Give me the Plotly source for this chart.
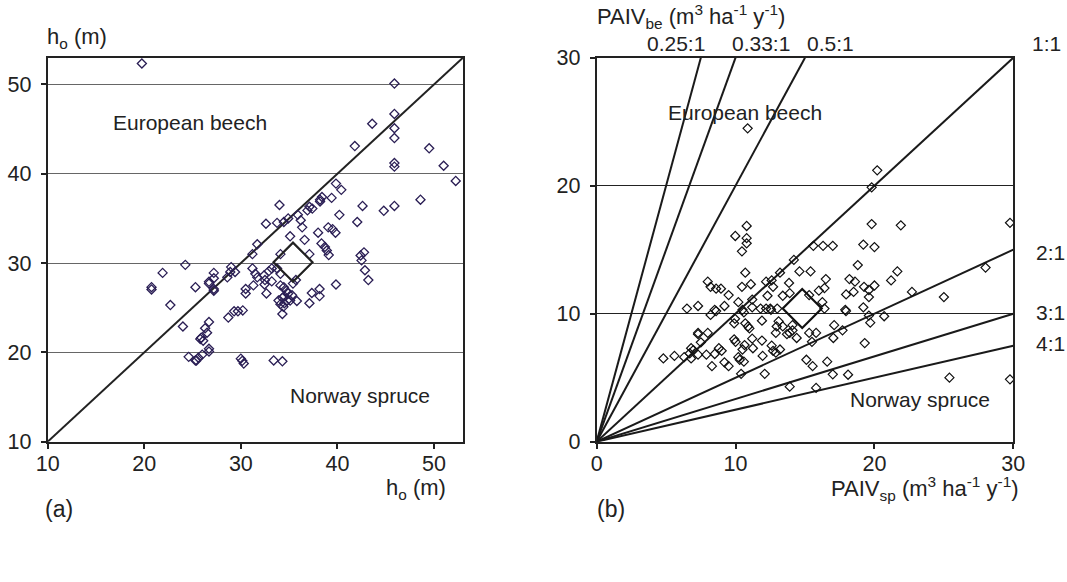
import plotly.graph_objects as go

# ---------- Panel (a): dominant height, spruce (x) vs beech (y) ----------
ho_sp = [19.75, 45.9, 45.9, 43.6, 45.9, 45.9, 41.8, 49.5, 51.0, 45.9, 45.9, 52.25,
         39.85, 40.4, 39.4, 48.6, 45.9, 42.6, 44.8, 34.0, 38.2, 38.4, 38.2, 37.1,
         37.4, 36.9, 40.2, 42.05, 35.9, 36.2, 36.35, 34.9, 34.45, 33.75, 32.6, 38.0,
         39.05, 39.5, 39.8, 35.1, 36.6, 31.7, 38.35, 38.7, 38.9, 39.1, 31.2, 34.1,
         37.1, 42.75, 42.4, 42.5, 42.85, 43.2, 24.25, 21.9, 29.0, 28.9, 29.4, 31.2,
         31.5, 31.7, 27.2, 27.2, 26.7, 26.7, 28.6, 32.9, 33.2, 33.75, 32.4, 32.5,
         32.45, 33.2, 34.1, 31.3, 35.7, 35.4, 20.75, 20.75, 25.3, 27.2, 27.2, 30.5,
         30.5, 32.65, 34.1, 34.45, 34.7, 34.9, 35.3, 37.35, 38.15, 38.15, 39.85, 33.9,
         34.3, 34.5, 34.8, 35.1, 34.1, 34.4, 34.5, 35.8, 37.1, 34.3, 22.7, 28.7,
         29.3, 29.7, 30.2, 24.0, 26.7, 26.3, 26.5, 25.9, 26.1, 25.8, 26.7, 26.7,
         24.6, 25.4, 25.6, 26.0, 25.3, 30.0, 30.15, 30.3, 33.4, 34.3]
ho_be = [52.35, 50.1, 46.7, 45.6, 45.1, 44.0, 43.1, 42.85, 40.9, 41.2, 40.8, 39.2,
         38.9, 38.2, 37.3, 37.1, 36.4, 36.4, 35.85, 36.5, 37.1, 37.4, 36.9, 36.3,
         36.1, 35.9, 35.4, 34.6, 35.4, 34.8, 34.0, 35.0, 34.6, 34.5, 34.4, 33.4,
         34.0, 33.8, 33.4, 33.0, 32.6, 32.1, 32.2, 31.8, 31.4, 30.9, 31.0, 31.0,
         31.0, 31.2, 30.85, 30.3, 29.2, 28.1, 29.8, 28.9, 29.55, 29.0, 29.0, 29.4,
         28.8, 28.4, 28.9, 28.3, 27.9, 27.7, 28.4, 29.1, 29.4, 29.4, 28.6, 28.1,
         27.6, 27.95, 28.8, 27.5, 28.1, 27.7, 27.3, 27.05, 27.3, 27.1, 26.9, 27.1,
         26.6, 26.6, 27.5, 27.3, 26.9, 26.6, 26.4, 26.65, 27.1, 26.3, 27.6, 25.8,
         26.1, 26.3, 25.8, 25.8, 25.4, 25.1, 25.5, 25.75, 25.5, 24.3, 25.3, 23.9,
         24.6, 24.6, 24.7, 22.9, 23.4, 22.7, 22.2, 21.65, 21.3, 21.5, 20.4, 20.1,
         19.5, 19.1, 19.4, 19.75, 19.1, 19.3, 19.05, 18.75, 19.1, 19.0]
ho_mean_sp = [35.4]
ho_mean_be = [30.1]
ho_line = [10, 53]

# ---------- Panel (b): periodic annual increment in volume ----------
paiv_sp = [10.87, 20.2, 19.8, 29.76, 19.8, 21.9, 10.8, 9.98, 10.8, 10.8, 10.46, 15.6,
           16.3, 17.0, 19.2, 20.0, 14.2, 18.8, 28.0, 21.65, 13.2, 14.6, 15.4, 10.7,
           16.5, 18.2, 18.6, 21.2, 8.0, 8.2, 8.6, 8.95, 9.5, 10.46, 11.1, 12.2,
           12.6, 12.7, 12.3, 13.85, 13.4, 13.9, 15.3, 16.0, 16.4, 17.96, 18.5, 19.25,
           19.6, 19.6, 20.0, 22.7, 25.0, 11.2, 10.2, 6.5, 7.3, 8.2, 8.5, 8.6,
           9.2, 10.5, 10.6, 11.2, 11.8, 12.2, 12.5, 13.0, 12.55, 16.4, 16.25, 17.9,
           17.95, 19.2, 19.6, 19.7, 20.7, 9.96, 9.9, 10.7, 10.9, 11.0, 11.9, 13.1,
           12.96, 12.9, 13.4, 14.1, 14.1, 14.4, 13.7, 13.9, 15.3, 15.8, 17.1, 17.04,
           17.7, 19.3, 15.5, 7.3, 7.3, 8.0, 7.5, 6.8, 6.96, 7.3, 6.7, 6.3,
           6.8, 4.8, 5.6, 7.9, 8.5, 9.0, 8.8, 8.3, 9.2, 9.5, 9.9, 10.0,
           10.65, 10.5, 10.2, 10.3, 10.6, 10.4, 11.2, 11.25, 11.95, 11.9, 12.1, 12.6,
           12.7, 12.9, 13.2, 15.1, 15.55, 16.6, 17.0, 18.1, 13.9, 15.8, 25.4, 29.76]
paiv_be = [24.48, 21.2, 19.87, 17.1, 17.0, 16.9, 16.85, 16.07, 15.9, 15.5, 14.87, 15.3,
           15.3, 15.3, 15.4, 15.2, 14.2, 13.8, 13.6, 13.3, 13.2, 13.3, 13.3, 13.2,
           12.7, 12.7, 12.5, 12.6, 12.5, 12.1, 11.95, 11.95, 11.45, 12.1, 12.3, 12.5,
           12.6, 12.1, 11.4, 12.4, 11.4, 11.6, 11.45, 11.8, 12.0, 11.5, 11.7, 12.1,
           11.85, 11.3, 12.2, 11.7, 11.3, 11.1, 10.9, 10.4, 10.6, 9.9, 10.3, 10.2,
           10.6, 10.3, 10.1, 10.5, 10.4, 10.4, 10.4, 10.4, 10.3, 10.4, 10.9, 10.3,
           10.2, 10.5, 9.85, 9.3, 9.8, 9.6, 9.25, 9.25, 9.0, 8.85, 9.45, 9.4,
           9.0, 8.5, 9.0, 9.1, 8.7, 8.1, 8.4, 8.5, 8.5, 8.5, 9.1, 8.1,
           8.7, 7.7, 7.8, 8.5, 8.4, 8.5, 7.76, 7.3, 7.16, 6.8, 6.9, 6.6,
           6.5, 6.5, 6.7, 6.8, 6.85, 7.1, 7.3, 5.9, 6.2, 5.9, 8.0, 7.8,
           7.55, 7.2, 6.6, 6.4, 6.25, 5.3, 8.05, 7.3, 6.7, 7.9, 5.3, 7.5,
           7.1, 6.95, 7.2, 6.4, 5.9, 6.25, 5.26, 5.23, 4.3, 4.2, 5.0, 4.87]
paiv_mean_sp = [14.8]
paiv_mean_be = [10.4]
ratio_values = [0.25, 1 / 3, 0.5, 1, 2, 3, 4]
ratio_labels = ["0.25:1", "0.33:1", "0.5:1", "1:1", "2:1", "3:1", "4:1"]
paiv_max = 30

FONT = "Liberation Sans, Arial, sans-serif"
TXT = "#222222"

fig = go.Figure()

# panel (a)
fig.add_trace(go.Scatter(x=ho_line, y=ho_line, mode="lines",
                         line=dict(color="#222222", width=2),
                         xaxis="x", yaxis="y", showlegend=False, hoverinfo="skip"))
fig.add_trace(go.Scatter(x=ho_sp, y=ho_be, mode="markers",
                         marker=dict(symbol="diamond-open", size=7, color="#2b1f55",
                                     line=dict(width=1.3, color="#2b1f55")),
                         xaxis="x", yaxis="y", showlegend=False))
fig.add_trace(go.Scatter(x=ho_mean_sp, y=ho_mean_be, mode="markers",
                         marker=dict(symbol="diamond-open", size=30, color="#222222",
                                     line=dict(width=2.2, color="#222222")),
                         xaxis="x", yaxis="y", showlegend=False))

# panel (b) ratio lines
for r in ratio_values:
    if r < 1:
        xe, ye = paiv_max * r, paiv_max
    else:
        xe, ye = paiv_max, paiv_max / r
    fig.add_trace(go.Scatter(x=[0, xe], y=[0, ye], mode="lines",
                             line=dict(color="#1a1a1a", width=2),
                             xaxis="x2", yaxis="y2", showlegend=False, hoverinfo="skip"))
fig.add_trace(go.Scatter(x=paiv_sp, y=paiv_be, mode="markers",
                         marker=dict(symbol="diamond-open", size=7, color="#111111",
                                     line=dict(width=1.2, color="#111111")),
                         xaxis="x2", yaxis="y2", showlegend=False))
fig.add_trace(go.Scatter(x=paiv_mean_sp, y=paiv_mean_be, mode="markers",
                         marker=dict(symbol="diamond-open", size=30, color="#111111",
                                     line=dict(width=2.2, color="#111111")),
                         xaxis="x2", yaxis="y2", showlegend=False))

ax_common = dict(showline=True, linecolor="#222222", linewidth=2, mirror=True,
                 ticks="outside", ticklen=5, tickwidth=2, tickcolor="#222222",
                 tickfont=dict(family=FONT, size=21.5, color=TXT), zeroline=False,
                 automargin=False)

fig.update_layout(
    width=1067, height=582, margin=dict(l=0, r=0, t=0, b=0, pad=0, autoexpand=False),
    paper_bgcolor="white", plot_bgcolor="white",
    font=dict(family=FONT, color=TXT),
    xaxis=dict(domain=[0.0447, 0.4339], range=[10, 53], tickvals=[10, 20, 30, 40, 50],
               showgrid=False, anchor="y", ticklabelstandoff=-3, **ax_common),
    yaxis=dict(domain=[0.2411, 0.9009], range=[10, 53], tickvals=[10, 20, 30, 40, 50],
               showgrid=True, gridcolor="#666666", gridwidth=1, anchor="x",
               ticklabelstandoff=5, **ax_common),
    xaxis2=dict(domain=[0.5592, 0.9497], range=[0, 30], tickvals=[0, 10, 20, 30],
                showgrid=False, anchor="y2", ticklabelstandoff=-3, **ax_common),
    yaxis2=dict(domain=[0.2411, 0.9009], range=[0, 30], tickvals=[0, 10, 20, 30],
                showgrid=True, gridcolor="#222222", gridwidth=1, anchor="x2",
                ticklabelstandoff=5, **ax_common),
)

ann = []
def txt(x, y, s, size=19, xanchor="left", yanchor="middle", xref="paper", yref="paper"):
    ann.append(dict(x=x, y=y, xref=xref, yref=yref, text=s, showarrow=False,
                    xanchor=xanchor, yanchor=yanchor,
                    font=dict(family=FONT, size=size, color=TXT)))

def px(xp, yp):
    return xp / 1067, 1 - yp / 582

# panel (a) texts
txt(*px(45, 38), "h<sub>o</sub> (m)", size=22)
txt(*px(448, 489), "h<sub>o</sub> (m)", size=22, xanchor="right")
txt(*px(43, 509), "(a)", size=23)
txt(*px(190, 122), "European beech", size=21, xanchor="center")
txt(*px(360, 395), "Norway spruce", size=21, xanchor="center")

# panel (b) texts
txt(*px(595, 16), "PAIV<sub>be</sub> (m<sup>3</sup> ha<sup>-1</sup> y<sup>-1</sup>)", size=22)
txt(*px(1021, 488), "PAIV<sub>sp</sub> (m<sup>3</sup> ha<sup>-1</sup> y<sup>-1</sup>)", size=22,
    xanchor="right")
txt(*px(595, 509), "(b)", size=23)
txt(*px(745, 113), "European beech", size=21, xanchor="center")
txt(*px(920, 399), "Norway spruce", size=21, xanchor="center")

ratio_pos = {"0.25:1": (676, 44), "0.33:1": (761, 44), "0.5:1": (830, 44),
             "1:1": (1046, 44), "2:1": (1050, 252), "3:1": (1050, 312), "4:1": (1050, 343)}
for lab in ratio_labels:
    xp, yp = ratio_pos[lab]
    txt(*px(xp, yp), lab, size=21, xanchor="center")

fig.update_layout(annotations=ann)
fig.write_html("out.html", config={"displayModeBar": False},
               post_script="document.body.style.margin='0';document.body.style.overflow='hidden';")
